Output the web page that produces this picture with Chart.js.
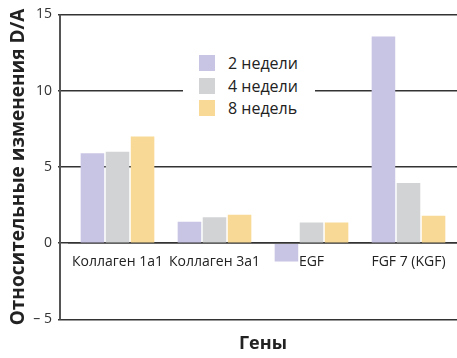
<!DOCTYPE html>
<html>
<head>
<meta charset="utf-8">
<script src="https://cdn.jsdelivr.net/npm/chart.js@4/dist/chart.umd.min.js"></script>
<style>
    html, body { margin: 0; padding: 0; background: #fff; }
    #wrap { position: relative; width: 457px; height: 358px; }
    #legend {
        position: absolute; left: 183px; top: 50px; width: 132px;
        background: #fff; padding: 2px 0 2px 16px; box-sizing: border-box;
        font-family: 'Open Sans', sans-serif; font-size: 16px; color: #222;
    }
    .item { display: flex; align-items: center; height: 22.5px; }
    .box { width: 16px; height: 16px; margin-right: 13px; }
</style>
</head>
<body>
<div id="wrap">
    <canvas id="chart" width="457" height="358"></canvas>
    <div id="legend"></div>
</div>
<script>
// data
const categories = ['Коллаген 1a1', 'Коллаген 3a1', 'EGF', 'FGF 7 (KGF)'];
const seriesNames = ['2 недели', '4 недели', '8 недель'];
const weeks2 = [5.9, 1.4, -1.2, 13.55];
const weeks4 = [6.0, 1.7, 1.35, 3.95];
const weeks8 = [7.0, 1.87, 1.35, 1.8];
const yTicks = [-5, 0, 5, 10, 15];

const colors = ['#c8c4e3', '#d2d3d4', '#f8da96'];
const font = "'Open Sans', sans-serif";
const axisGap = 9; // axis line sits left of the first category

// vertical axis line drawn a little left of the plot
const axisLine = {
    id: 'axisLine',
    afterDraw(chart) {
        const { ctx, chartArea } = chart;
        ctx.save();
        ctx.strokeStyle = '#555';
        ctx.lineWidth = 2;
        ctx.beginPath();
        ctx.moveTo(chartArea.left - axisGap, chartArea.top);
        ctx.lineTo(chartArea.left - axisGap, chartArea.bottom);
        ctx.stroke();
        ctx.restore();
    }
};

const chart = new Chart(document.getElementById('chart'), {
    type: 'bar',
    data: {
        labels: categories,
        datasets: [weeks2, weeks4, weeks8].map((d, i) => ({
            label: seriesNames[i],
            data: d,
            backgroundColor: colors[i],
            categoryPercentage: 0.775,
            barPercentage: 0.94
        }))
    },
    options: {
        responsive: false,
        animation: false,
        layout: { padding: { top: 9.5, right: 0, left: 0, bottom: 0 } },
        plugins: {
            legend: { display: false },
            tooltip: { enabled: false },
            title: {
                display: true,
                text: 'Гены',
                position: 'bottom',
                fullSize: false,
                color: '#222',
                font: { family: font, size: 18, weight: 'bold' },
                padding: { top: 14, bottom: 3 }
            }
        },
        scales: {
            x: {
                position: { y: 0 },
                grid: { display: false, drawTicks: false },
                border: { display: true, color: '#333', width: 1.5 },
                ticks: {
                    color: '#222',
                    font: { family: font, size: 14 },
                    padding: 10,
                    autoSkip: false,
                    maxRotation: 0
                },
                afterFit(scale) { scale.height = 0; }
            },
            y: {
                min: -5,
                max: 15,
                afterBuildTicks(scale) {
                    scale.ticks = yTicks.map(v => ({ value: v }));
                },
                afterFit(scale) { scale.width = 60 + axisGap; },
                grid: { color: '#333', lineWidth: 1.5, tickLength: axisGap + 2 },
                border: { display: false },
                ticks: {
                    color: '#333',
                    font: { family: font, size: 14 },
                    padding: 6,
                    callback: v => v < 0 ? '\u2013 ' + Math.abs(v) : String(v)
                },
                title: {
                    display: true,
                    text: 'Относительные изменения D/A',
                    color: '#222',
                    font: { family: font, size: 19, weight: 'bold' },
                    padding: { top: 7, bottom: 0 }
                }
            }
        }
    },
    plugins: [axisLine]
});

// legend built from the datasets
const legend = document.getElementById('legend');
chart.data.datasets.forEach(ds => {
    const row = document.createElement('div');
    row.className = 'item';
    row.innerHTML = `<span class="box" style="background:${ds.backgroundColor}"></span><span>${ds.label}</span>`;
    legend.appendChild(row);
});
</script>
</body>
</html>
